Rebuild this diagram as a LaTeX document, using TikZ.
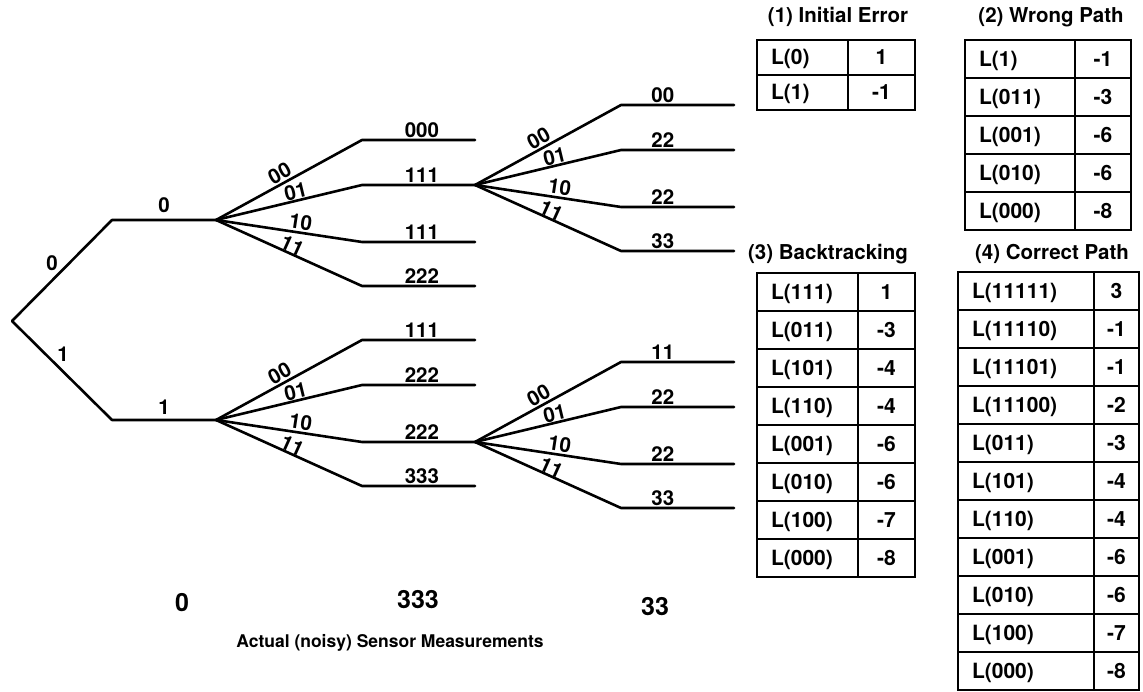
\documentclass[tikz,border=0pt]{standalone}
\usepackage{fontspec}
\setmainfont{TeX Gyre Heros}
\usetikzlibrary{positioning,calc}
\tikzset{
  txt/.style={font=\bfseries\fontsize{20.5}{24}\selectfont},
  tree/.style={line width=2.6pt,line join=round,line cap=round},
  lbl/.style={txt,inner sep=1pt},
  elbl/.style={txt,sloped,above},
  ttl/.style={txt},
  cell/.style={draw,line width=1.7pt,outer sep=0pt,inner ysep=0pt,
    font=\bfseries\fontsize{21}{24}\selectfont,text height=15pt,text depth=0pt},
  lcell/.style={cell,inner xsep=14pt,align=left,text width=#1},
  rcell/.style={cell,inner xsep=0pt,minimum width=#1},
  frame/.style={line width=2.8pt},
  meas/.style={font=\bfseries\fontsize{25}{28}\selectfont},
}
\begin{document}
\begin{tikzpicture}[x=1pt,y=-1pt]
\useasboundingbox (0,0) rectangle (1143,692);
% search tree
\coordinate (r) at (12,321);
\coordinate (a0) at (112,220);
\coordinate (a1) at (112,420);
\coordinate (p) at (216,220);
\coordinate (q) at (216,420);
\draw[tree] (r) -- node[lbl,above left,pos=0.48]{0} (a0) -- node[lbl,above=5pt]{0} (p);
\draw[tree] (r) -- node[lbl,above right,pos=0.43]{1} (a1) -- node[lbl,above=3pt]{1} (q);
\foreach \f/\lp/\ta/\tb/\tc/\td in {p/0.53/000/111/111/222, q/0.53/111/222/222/333,
    p2e/0.37/00/22/22/33, q3e/0.37/11/22/22/33}{
  \foreach \k/\dy/\ed/\sg/\ps/\sep in {1/-80/00/\ta/0.47/1.5pt, 2/-35/01/\tb/0.56/0pt,
      3/22/10/\tc/0.57/1.5pt, 4/66/11/\td/0.5/-0.5pt}{
    \coordinate (\f\k) at ($(\f)+(146,\dy)$);
    \coordinate (\f\k e) at ($(\f\k)+(113,0)$);
    \draw[tree] (\f) -- node[elbl,pos=\ps,inner sep=\sep]{\ed} (\f\k)
      -- node[lbl,above,pos=\lp]{\sg} (\f\k e);
  }
}
% measurements
\node[meas] (m0) at (182,603) {0};
\node[meas] (m1) at (418,600) {333};
\node[meas] (m2) at (655,607) {33};
\node[font=\bfseries\fontsize{17.5}{20}\selectfont] (cap) at (390,643) {Actual (noisy) Sensor Measurements};
% (1) initial error
\node[ttl] (ie) at (838,17) {(1) Initial Error};
\foreach \lab/\val [count=\i] in {0/1,1/-1}{
  \node[lcell=63pt,minimum height=35pt,anchor=north west] (ie-l\i) at (757,{40+(\i-1)*35}) {L(\lab)};
  \node[rcell=67pt,minimum height=35pt,right=0pt of ie-l\i] (ie-r\i) {\val};
}
\draw[frame] (ie-l1.north west) rectangle (ie-r2.south east);
% (2) wrong path
\node[ttl] (wp) at (1051,17) {(2) Wrong Path};
\foreach \lab/\val [count=\i] in {1/-1,011/-3,001/-6,010/-6,000/-8}{
  \node[lcell=82pt,minimum height=38pt,anchor=north west] (wp-l\i) at (965,{40+(\i-1)*38}) {L(\lab)};
  \node[rcell=56pt,minimum height=38pt,right=0pt of wp-l\i] (wp-r\i) {\val};
}
\draw[frame] (wp-l1.north west) rectangle (wp-r5.south east);
% (3) backtracking
\node[ttl] (bt) at (828,254) {(3) Backtracking};
\foreach \lab/\val [count=\i] in {111/1,011/-3,101/-4,110/-4,001/-6,010/-6,100/-7,000/-8}{
  \node[lcell=73pt,minimum height=38pt,anchor=north west] (bt-l\i) at (757,{273+(\i-1)*38}) {L(\lab)};
  \node[rcell=57pt,minimum height=38pt,right=0pt of bt-l\i] (bt-r\i) {\val};
}
\draw[frame] (bt-l1.north west) rectangle (bt-r8.south east);
% (4) correct path
\node[ttl] (cp) at (1052,254) {(4) Correct Path};
\foreach \lab/\val [count=\i] in {11111/3,11110/-1,11101/-1,11100/-2,011/-3,101/-4,
    110/-4,001/-6,010/-6,100/-7,000/-8}{
  \node[lcell=108pt,minimum height=38pt,anchor=north west] (cp-l\i) at (958,{272+(\i-1)*38}) {L(\lab)};
  \node[rcell=45pt,minimum height=38pt,right=0pt of cp-l\i] (cp-r\i) {\val};
}
\draw[frame] (cp-l1.north west) rectangle (cp-r11.south east);
\end{tikzpicture}
\end{document}
